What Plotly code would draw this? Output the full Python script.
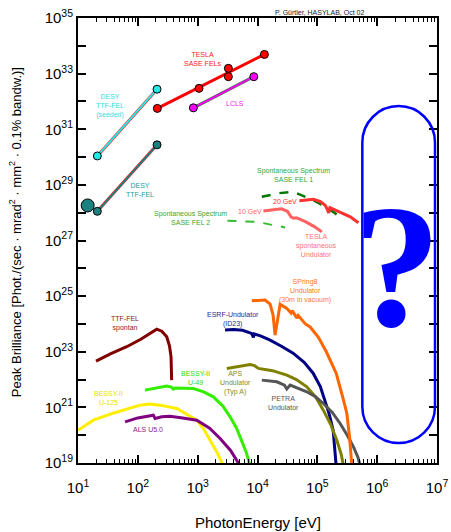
import plotly.graph_objects as go

# ---------------- data (log10 of photon energy [eV] and of peak brilliance) -------------
tesla_line_le = [2.326, 4.115]
tesla_line_lb = [31.75, 33.69]
tesla_pts_le = [2.326, 3.023, 3.513, 3.513, 4.115]
tesla_pts_lb = [31.75, 32.47, 33.19, 32.89, 33.69]

lcls_le = [2.928, 3.938]
lcls_lb = [31.77, 32.89]

ttf_seeded_le = [1.323, 2.321]
ttf_seeded_lb = [30.04, 32.44]

ttf_fel_le = [1.323, 2.321]
ttf_fel_lb = [28.05, 30.44]
ttf_dot_le = [1.162]
ttf_dot_lb = [28.26]

tesla10_le = [4.099, 4.25, 4.40, 4.50, 4.56, 4.60, 4.65, 4.80, 4.95, 5.075]
tesla10_lb = [28.06, 28.10, 28.14, 28.05, 27.85, 27.80, 27.82, 27.68, 27.50, 27.31]

tesla20_le = [4.70, 4.935, 5.05, 5.13, 5.17, 5.19, 5.21, 5.381, 5.55, 5.687]
tesla20_lb = [28.43, 28.48, 28.40, 28.27, 28.10, 27.99, 28.18, 28.02, 27.85, 27.64]

sase1_le = [4.072, 4.35, 4.60, 4.741, 4.935, 5.186, 5.381]
sase1_lb = [28.57, 28.70, 28.75, 28.63, 28.45, 28.15, 27.85]

sase2_le = [3.497, 3.988, 4.462]
sase2_lb = [27.71, 27.67, 27.47]

ttf_spont_le = [1.301, 1.55, 1.814, 2.05, 2.316, 2.40, 2.483, 2.53, 2.555, 2.565]
ttf_spont_lb = [22.66, 22.93, 23.18, 23.45, 23.81, 23.74, 23.54, 23.20, 22.82, 21.98]

esrf_le = [3.458, 3.6, 3.75, 3.90, 3.932, 3.945, 4.05, 4.211, 4.40, 4.595, 4.78, 4.93,
           5.05, 5.13, 5.20, 5.264, 5.315]
esrf_lb = [23.78, 23.80, 23.77, 23.66, 23.52, 23.64, 23.57, 23.42, 23.20, 22.95, 22.62, 22.23,
           21.75, 21.26, 20.75, 20.18, 18.9]

spring8_le = [3.905, 4.127, 4.211, 4.26, 4.294, 4.378, 4.49, 4.56, 4.58, 4.66, 4.68, 4.80,
              4.88, 5.018, 5.15, 5.315, 5.42, 5.493, 5.54, 5.577]
spring8_lb = [24.83, 24.86, 24.71, 24.32, 23.60, 24.71, 24.56, 24.39, 24.48, 24.21, 24.30, 24.0,
              23.89, 23.52, 23.0, 22.23, 21.4, 20.79, 19.9, 18.9]

aps_le = [3.487, 3.7, 3.876, 3.95, 4.015, 4.25, 4.49, 4.65, 4.824, 4.97, 5.10, 5.22, 5.326, 5.40, 5.437]
aps_lb = [22.40, 22.48, 22.54, 22.50, 22.40, 22.32, 22.16, 22.0, 21.74, 21.38, 20.90, 20.4, 19.82, 19.3, 18.9]

petra_le = [4.072, 4.2, 4.323, 4.45, 4.49, 4.545, 4.7, 4.824, 4.97, 5.10, 5.25, 5.381, 5.50, 5.604, 5.68, 5.716]
petra_lb = [21.98, 21.96, 21.92, 21.80, 21.66, 21.80, 21.66, 21.56, 21.38, 21.14, 20.82, 20.42, 20.0, 19.58, 19.2, 18.9]

u49_le = [2.12, 2.3, 2.483, 2.56, 2.594, 2.62, 2.928, 3.1, 3.262, 3.42, 3.542, 3.65, 3.737, 3.81, 3.876]
u49_lb = [21.62, 21.70, 21.77, 21.73, 21.66, 21.70, 21.68, 21.56, 21.38, 21.05, 20.66, 20.25, 19.82, 19.4, 18.9]

u125_le = [1.0, 1.256, 1.6, 2.037, 2.2, 2.371, 2.65, 2.985, 3.1, 3.207, 3.32, 3.43]
u125_lb = [20.18, 20.54, 20.80, 21.08, 21.12, 21.08, 20.96, 20.54, 20.22, 19.82, 19.4, 18.9]

als_le = [1.786, 2.0, 2.259, 2.288, 2.4, 2.538, 2.75, 2.985, 3.2, 3.375, 3.55, 3.709]
als_lb = [20.48, 20.62, 20.72, 20.60, 20.66, 20.68, 20.62, 20.54, 20.25, 19.88, 19.45, 18.9]

# labels: text, log10 E, log10 B, colour
label_texts = ["TESLA<br>SASE FELs", "DESY<br>TTF-FEL<br>(seeded)", "LCLS", "DESY<br>TTF-FEL",
               "Spontaneous Spectrum<br>SASE FEL 1", "Spontaneous Spectrum<br>SASE FEL 2",
               "10 GeV", "20 GeV", "TESLA<br>spontaneous<br>Undulator", "TTF-FEL<br>spontan",
               "ESRF-Undulator<br>(ID23)", "SPring8<br>Undulator<br>(30m in vacuum)",
               "BESSY-II<br>U-49", "APS<br>Undulator<br>(Typ A)", "PETRA<br>Undulator",
               "BESSY-II<br>U-125", "ALS U5.0"]
label_le = [3.074, 1.535, 3.625, 2.037, 4.595, 2.873, 3.876, 4.462, 4.98, 1.786,
            3.592, 4.796, 2.957, 3.625, 4.428, 1.502, 2.171]
label_lb = [33.53, 31.83, 31.91, 28.81, 29.35, 27.81, 28.06, 28.42, 26.83, 24.03,
            24.17, 25.18, 22.05, 21.87, 21.15, 21.33, 20.22]
label_colors = ["#ff2020", "#30e0e0", "#ee22ee", "#249c9c", "#33a833", "#33a833",
                "#ff6666", "#ff3333", "#ff7070", "#8b1a1a", "#2a2a90", "#ff7722",
                "#33dd00", "#8a8a10", "#555555", "#e8e000", "#882288"]

x_exps = [1, 2, 3, 4, 5, 6, 7]
y_exps = list(range(19, 36))


def P(v):
    return [10.0 ** a for a in v]


fig = go.Figure()


def line(le, lb, color, width=3, dash=None):
    fig.add_trace(go.Scatter(x=P(le), y=P(lb), mode="lines",
                             line=dict(color=color, width=width, dash=dash),
                             showlegend=False, hoverinfo="skip"))


# undulator curves
line(u125_le, u125_lb, "#ffee00")
line(als_le, als_lb, "#800080")
line(u49_le, u49_lb, "#33ee00")
line(ttf_spont_le, ttf_spont_lb, "#800000")
line(esrf_le, esrf_lb, "#000080")
line(aps_le, aps_lb, "#808000")
line(petra_le, petra_lb, "#555555")
line(spring8_le, spring8_lb, "#ff6600")
line(tesla10_le, tesla10_lb, "#ff6060")
line(sase1_le, sase1_lb, "#007700", width=2.5, dash="dash")
line(tesla20_le, tesla20_lb, "#ff3030")
line(sase2_le, sase2_lb, "#33bb33", width=2, dash="dash")

# FEL lines
line(ttf_seeded_le, ttf_seeded_lb, "#ff2020", width=3)
line(ttf_seeded_le, ttf_seeded_lb, "#22e8e8", width=2)
line(ttf_fel_le, ttf_fel_lb, "#ff2020", width=3)
line(ttf_fel_le, ttf_fel_lb, "#1a8080", width=2)
line(lcls_le, lcls_lb, "#228822", width=3)
line(lcls_le, lcls_lb, "#ff00ff", width=2)
line(tesla_line_le, tesla_line_lb, "#ff0000", width=3)


def pts(le, lb, color, size=8):
    fig.add_trace(go.Scatter(x=P(le), y=P(lb), mode="markers",
                             marker=dict(color=color, size=size, line=dict(color="black", width=1)),
                             showlegend=False, hoverinfo="skip"))


pts(ttf_seeded_le, ttf_seeded_lb, "#22e8e8")
pts(ttf_fel_le, ttf_fel_lb, "#1a8080")
pts(ttf_dot_le, ttf_dot_lb, "#1a8080", size=13)
pts(lcls_le, lcls_lb, "#ff00ff")
pts(tesla_pts_le, tesla_pts_lb, "#ff0000")

annotations = []
for t, le, lb, c in zip(label_texts, label_le, label_lb, label_colors):
    annotations.append(dict(x=le, y=lb, xref="x", yref="y", text=t, showarrow=False,
                            xanchor="center", yanchor="middle",
                            font=dict(family="Arial", size=7, color=c), align="center"))

annotations.append(dict(x=0.674, y=1.0, xref="paper", yref="paper", xanchor="center",
                        yanchor="bottom", text="P. Gürtler, HASYLAB, Oct 02", showarrow=False,
                        font=dict(family="Arial", size=7, color="#222222")))
annotations.append(dict(x=0.5, y=-0.1326, xref="paper", yref="paper", xanchor="center",
                        yanchor="middle", text="PhotonEnergy [eV]", showarrow=False,
                        font=dict(family="Arial", size=15, color="black")))
annotations.append(dict(x=-0.175, y=0.519, xref="paper", yref="paper", xanchor="center",
                        yanchor="middle", textangle=-90,
                        text="Peak Brilliance [Phot./(sec · mrad<sup>2</sup> · mm<sup>2</sup> · 0.1% bandw.)]",
                        showarrow=False, font=dict(family="Arial", size=13, color="black")))
annotations.append(dict(x=0.889, y=0.441, xref="paper", yref="paper", xanchor="center",
                        yanchor="middle", text="<b>?</b>", showarrow=False,
                        font=dict(family="Liberation Serif", size=176, color="#0000ff")))

# rounded rectangle (paper coords)
x0, x1, yb, yt = 0.792, 0.9944, 0.045, 0.802
cx = (x0 + x1) / 2
rx = (x1 - x0) / 2
ry = rx * 359 / 445
k = 0.5523
path = (f"M {x0},{yb + ry} L {x0},{yt - ry} "
        f"C {x0},{yt - ry + k * ry} {cx - k * rx},{yt} {cx},{yt} "
        f"C {cx + k * rx},{yt} {x1},{yt - ry + k * ry} {x1},{yt - ry} "
        f"L {x1},{yb + ry} "
        f"C {x1},{yb + ry - k * ry} {cx + k * rx},{yb} {cx},{yb} "
        f"C {cx - k * rx},{yb} {x0},{yb + ry - k * ry} {x0},{yb + ry} Z")

fig.update_layout(
    width=451, height=532,
    margin=dict(l=78, r=14, t=18, b=69),
    paper_bgcolor="white", plot_bgcolor="white",
    annotations=annotations,
    shapes=[dict(type="path", path=path, xref="paper", yref="paper",
                 line=dict(color="#0000ff", width=2.5))],
    font=dict(family="Arial", color="black"),
)

fig.update_xaxes(type="log", range=[1, 7], showgrid=False, zeroline=False, automargin=False,
                 showline=True, linecolor="black", linewidth=2, mirror="ticks",
                 ticks="inside", ticklen=8, tickwidth=1.5, tickcolor="black",
                 tickmode="array", tickvals=[10.0 ** e for e in x_exps],
                 ticktext=[f"10<sup>{e}</sup>" for e in x_exps], ticklabelstandoff=10,
                 tickfont=dict(family="Arial", size=15, color="black"),
                 minor=dict(ticks="inside", ticklen=4, tickwidth=1, tickcolor="black", dtick="D1"))
fig.update_yaxes(type="log", range=[19, 35], showgrid=False, zeroline=False, automargin=False,
                 showline=True, linecolor="black", linewidth=2, mirror="ticks",
                 ticks="inside", ticklen=8, tickwidth=1.5, tickcolor="black",
                 tickmode="array", tickvals=[10.0 ** e for e in y_exps],
                 ticktext=[f"10<sup>{e}</sup>" if e % 2 == 1 else "" for e in y_exps],
                 tickfont=dict(family="Arial", size=15, color="black"))

fig.write_html("out.html")
